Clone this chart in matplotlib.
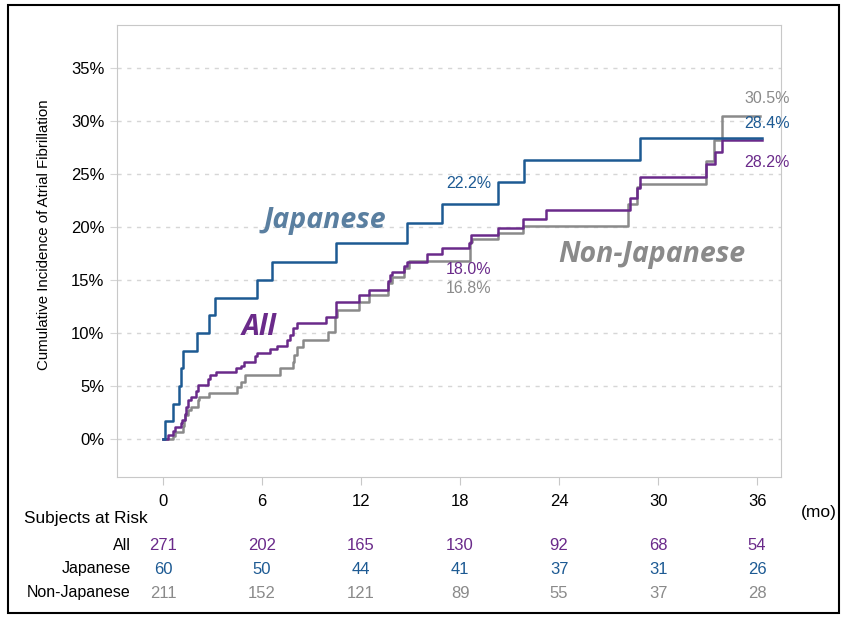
import matplotlib
matplotlib.use("Agg")
from matplotlib import pyplot as plt
from matplotlib import transforms
from matplotlib.patches import Rectangle

plt.rcParams['font.family'] = ['Liberation Sans', 'DejaVu Sans']

# step data (months, cumulative %)
jp_t = [0, 0.12, 0.62, 0.95, 1.07, 1.23, 2.06, 2.77, 3.15, 5.7, 6.6, 10.5, 14.8, 16.9, 20.3, 21.9, 28.9, 36.3]
jp_v = [0, 1.67, 3.33, 5.0, 6.67, 8.33, 10.0, 11.67, 13.33, 15.0, 16.67, 18.5, 20.4, 22.2, 24.2, 26.3, 28.4, 28.4]

all_t = [0, 0.3, 0.6, 0.75, 1.1, 1.15, 1.3, 1.4, 1.5, 1.7, 2.0, 2.1, 2.7, 2.85, 3.2, 4.4, 4.7, 4.9,
         5.6, 5.7, 6.5, 6.9, 7.5, 7.7, 7.9, 8.1, 9.9, 10.5, 11.9, 12.5, 13.65, 13.75, 13.9, 14.6,
         14.8, 16.0, 16.9, 18.55, 18.65, 20.3, 21.8, 23.2, 28.3, 28.7, 28.9, 32.9, 33.45, 33.9, 36.3]
all_v = [0, 0.37, 0.74, 1.1, 1.5, 1.8, 2.4, 3.0, 3.7, 4.0, 4.5, 5.1, 5.7, 6.0, 6.3, 6.7, 6.9, 7.3,
         7.8, 8.1, 8.5, 8.8, 9.3, 9.8, 10.5, 10.9, 11.5, 12.95, 13.6, 14.1, 14.9, 15.5, 15.8, 16.3,
         16.7, 17.45, 18.0, 18.5, 19.2, 19.9, 20.75, 21.6, 22.7, 23.7, 24.75, 25.9, 27.1, 28.2, 28.2]

nj_t = [0, 0.6, 0.7, 1.2, 1.25, 1.35, 1.5, 1.7, 2.1, 2.2, 2.8, 4.47, 4.75, 4.95, 7.1, 7.85, 7.95,
        8.1, 8.5, 10.0, 10.4, 10.55, 11.9, 12.5, 13.65, 13.9, 14.6, 14.9, 18.6, 18.75, 20.3, 21.8,
        28.2, 28.75, 28.9, 32.9, 33.4, 33.9, 36.2]
nj_v = [0, 0.3, 0.7, 1.2, 1.8, 2.3, 2.7, 3.05, 3.7, 4.0, 4.3, 4.9, 5.4, 6.0, 6.7, 7.3, 7.9,
        8.7, 9.3, 10.1, 11.5, 12.2, 12.95, 13.6, 14.7, 15.3, 16.1, 16.8, 18.6, 18.9, 19.4, 20.1,
        22.2, 23.8, 24.05, 26.2, 28.2, 30.5, 30.5]

risk_months = [0, 6, 12, 18, 24, 30, 36]
risk_all = [271, 202, 165, 130, 92, 68, 54]
risk_jp = [60, 50, 44, 41, 37, 31, 26]
risk_nj = [211, 152, 121, 89, 55, 37, 28]

c_jp = "#1d5a93"
c_all = "#6a2a8a"
c_nj = "#8a8a8a"

fig = plt.figure(figsize=(8.45, 6.18), dpi=100)
ax = fig.add_axes([0.1385, 0.2282, 0.7858, 0.7314])

ax.step(nj_t, nj_v, where="post", color=c_nj, lw=1.8)
ax.step(all_t, all_v, where="post", color=c_all, lw=1.8)
ax.step(jp_t, jp_v, where="post", color=c_jp, lw=1.8)

ax.set_xlim(-2.79, 37.45)
ax.set_ylim(-3.58, 39.06)
ax.set_xticks(risk_months)
ax.set_yticks(range(0, 36, 5))
ax.set_yticklabels([f"{v}%" for v in range(0, 36, 5)])
ax.grid(axis="y", ls=(0, (3, 4)), color="#d6d6d6", lw=1)
ax.set_axisbelow(True)
ax.tick_params(axis="x", length=6, color="#c8c8c8", pad=6, labelsize=12)
ax.tick_params(axis="y", length=5, color="#d6d6d6", labelsize=12, pad=4)
for s in ax.spines.values():
    s.set_color("#c8c8c8")
ax.set_ylabel("Cumulative Incidence of Atrial Fibrillation", fontsize=10.8, labelpad=10)
ax.yaxis.set_label_coords(-0.1, 0.535)

# group labels
big = dict(fontsize=20.5, fontweight="bold", fontstyle="italic", family=["Open Sans", "DejaVu Sans"],
           ha="center", va="center")
ax.text(9.8, 20.6, "Japanese", color="#5a7fa0", **big)
ax.text(5.8, 10.5, "All", color=c_all, **big)
ax.text(29.6, 17.4, "Non-Japanese", color=c_nj, **big)

# value labels
ax.text(18.5, 24.1, "22.2%", color=c_jp, fontsize=11.5, ha="center", va="center")
ax.text(18.5, 16.0, "18.0%", color=c_all, fontsize=11.5, ha="center", va="center")
ax.text(18.5, 14.2, "16.8%", color=c_nj, fontsize=11.5, ha="center", va="center")
ax.text(36.6, 32.1, "30.5%", color=c_nj, fontsize=11.5, ha="center", va="center")
ax.text(36.6, 29.8, "28.4%", color=c_jp, fontsize=11.5, ha="center", va="center")
ax.text(36.6, 26.1, "28.2%", color=c_all, fontsize=11.5, ha="center", va="center")

# subjects at risk table
tr = transforms.blended_transform_factory(ax.transData, fig.transFigure)
fig.text(24 / 845, 1 - 519 / 618, "Subjects at Risk", fontsize=12.4, ha="left", va="center")
fig.text(819 / 845, 1 - 512 / 618, "(mo)", fontsize=12.5, ha="center", va="center")
rows = [("All", risk_all, c_all, 545), ("Japanese", risk_jp, c_jp, 569),
        ("Non-Japanese", risk_nj, c_nj, 593)]
for name, vals, col, ypix in rows:
    y = 1 - ypix / 618
    fig.text(131 / 845, y, name, fontsize=11.5, ha="right", va="center")
    for m, v in zip(risk_months, vals):
        ax.text(m, y, str(v), transform=tr, color=col, fontsize=12, ha="center", va="center")

# outer border
fig.patches.append(Rectangle((8 / 845, 5 / 618), 831 / 845, 608 / 618, transform=fig.transFigure,
                             fill=False, ec="black", lw=1.5))

plt.savefig("out.png", dpi=100)
